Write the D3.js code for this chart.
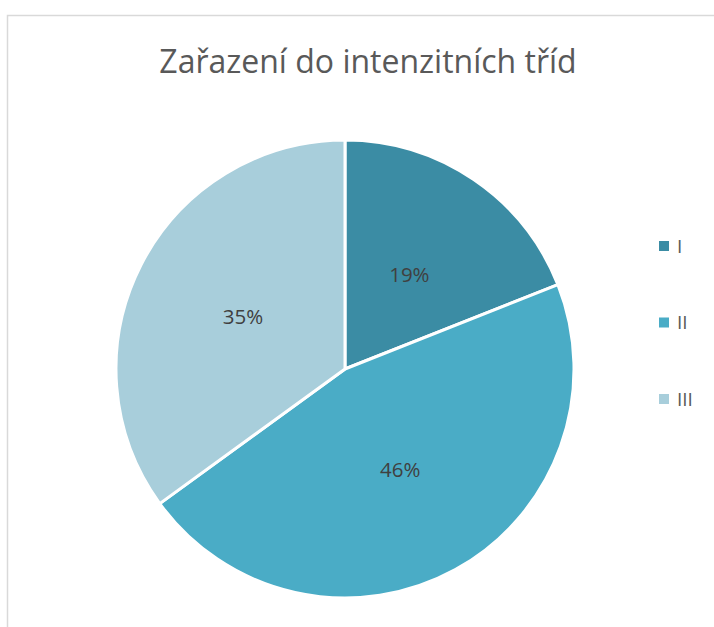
<!DOCTYPE html>
<html><head><meta charset="utf-8">
<script src="https://cdn.jsdelivr.net/npm/d3@7"></script>
<style>html,body{margin:0;padding:0;background:#fff;overflow:hidden}</style>
</head><body>
<svg id="c" width="714" height="627"></svg>
<script>
const title = "Zařazení do intenzitních tříd";
const categories = ["I", "II", "III"];
const values = [19, 46, 35];
const colors = ["#3B8CA4", "#4AACC6", "#A8CEDB"];

const svg = d3.select("#c");
const font = "'Open Sans', sans-serif";

svg.append("rect").attr("x", 7.5).attr("y", 15.5).attr("width", 720).attr("height", 620)
  .attr("fill", "#fff").attr("stroke", "#d9d9d9").attr("stroke-width", 1.5);

svg.append("text").attr("x", 368).attr("y", 73).attr("text-anchor", "middle")
  .attr("font-family", font).attr("font-size", 32).attr("fill", "#595959").text(title);

const cx = 345, cy = 369, r = 229;
const pie = d3.pie().sort(null).value(d => d)(values);
const arc = d3.arc().innerRadius(0).outerRadius(r);
const labelArc = d3.arc().innerRadius(r * 0.5).outerRadius(r * 0.5);
const g = svg.append("g").attr("transform", `translate(${cx},${cy})`);
g.selectAll("path").data(pie).join("path")
  .attr("d", arc).attr("fill", (d, i) => colors[i])
  .attr("stroke", "#fff").attr("stroke-width", 3).attr("stroke-linejoin", "round");
const total = d3.sum(values);
g.selectAll("text").data(pie).join("text")
  .attr("transform", d => `translate(${labelArc.centroid(d)})`)
  .attr("text-anchor", "middle").attr("dy", "0.36em")
  .attr("font-family", font).attr("font-size", 20.5).attr("fill", "#404040")
  .text(d => Math.round(d.data / total * 100) + "%");

const legendY = d3.scalePoint().domain(categories).range([246, 399]);
const lg = svg.append("g");
categories.forEach((c, i) => {
  lg.append("rect").attr("x", 659).attr("y", legendY(c) - 5).attr("width", 10).attr("height", 10)
    .attr("fill", colors[i]);
  lg.append("text").attr("x", 677).attr("y", legendY(c)).attr("dy", "0.36em")
    .attr("font-family", font).attr("font-size", 19).attr("fill", "#595959").text(c);
});
</script>
</body></html>
